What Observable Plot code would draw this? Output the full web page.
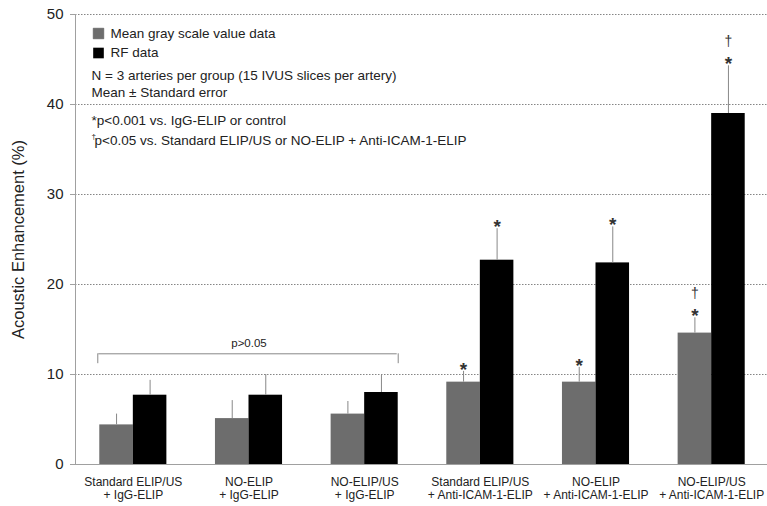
<!DOCTYPE html>
<html><head><meta charset="utf-8">
<script src="https://cdn.jsdelivr.net/npm/d3@7"></script>
<script src="https://cdn.jsdelivr.net/npm/@observablehq/plot@0.6"></script>
<style>body{margin:0;background:#fff} svg{display:block}</style>
</head><body><div id="chart"></div>
<script>
const groups = [
  "Standard ELIP/US\n+ IgG-ELIP",
  "NO-ELIP\n+ IgG-ELIP",
  "NO-ELIP/US\n+ IgG-ELIP",
  "Standard ELIP/US\n+ Anti-ICAM-1-ELIP",
  "NO-ELIP\n+ Anti-ICAM-1-ELIP",
  "NO-ELIP/US\n+ Anti-ICAM-1-ELIP"
];
const seriesNames = ["Mean gray scale value data", "RF data"];
const grayMean = [4.4, 5.1, 5.6, 9.15, 9.15, 14.6];
const graySE   = [1.2, 2.0, 1.4, 1.2, 1.65, 1.7];
const rfMean   = [7.7, 7.7, 8.0, 22.7, 22.4, 39.0];
const rfSE     = [1.65, 2.3, 1.9, 3.5, 4.0, 5.3];
const yTicks = [0, 10, 20, 30, 40, 50];
const gridTicks = [10, 20, 30, 40, 50];
// significance markers: group indices per series
const starGray = [3, 4, 5], starRF = [3, 4, 5];
const daggerGray = [5], daggerRF = [5];
const bracketGroups = [0, 2];
const bracketLevel = 12.3, bracketHook = 11.2, bracketLabelY = 13.5;
const bracketLabel = "p>0.05";
const notes = [
  "N = 3 arteries per group (15 IVUS slices per artery)",
  "Mean \u00b1 Standard error",
  "*p<0.001 vs. IgG-ELIP or control",
  "p<0.05 vs. Standard ELIP/US or NO-ELIP + Anti-ICAM-1-ELIP"
];
const yLabel = "Acoustic Enhancement (%)";

const colors = ["#6d6d6d", "#000000"];
const W = 767, H = 506, mL = 75, mT = 14, mB = 42;
const xOpts = {type: "band", domain: groups, range: [75, 769], paddingInner: 0.42, paddingOuter: 0.21, round: false};
const bw = Plot.scale({x: xOpts}).bandwidth;

const grayRows = groups.map((g, i) => ({group: g, value: grayMean[i], se: graySE[i]}));
const rfRows = groups.map((g, i) => ({group: g, value: rfMean[i], se: rfSE[i]}));
const errTop = d => d.value + d.se;
const font = "Liberation Sans, Arial, Helvetica, sans-serif";
const ink = "#222";
const noteSize = 13.5;

const sig = (rowsArr, idx, sym, dx, dy, size, weight) =>
  Plot.text(idx.map(i => rowsArr[i]), {x: "group", y: errTop, text: () => sym, dx, dy, fontSize: size, fontWeight: weight, fill: "#333"});

const chart = Plot.plot({
  width: W, height: H,
  marginLeft: mL, marginRight: 0, marginTop: mT, marginBottom: mB,
  style: {fontFamily: font, background: "#fff"},
  x: {...xOpts, label: null},
  y: {domain: [0, 50], label: null},
  marks: [
    Plot.ruleY(gridTicks, {stroke: "#858585", strokeDasharray: "1.5,1.5"}),
    Plot.barY(grayRows, {x: "group", y: "value", fill: colors[0], insetRight: bw / 2, insetLeft: 0}),
    Plot.barY(rfRows, {x: "group", y: "value", fill: colors[1], insetLeft: bw / 2, insetRight: 0}),
    Plot.ruleX(grayRows, {x: "group", y1: "value", y2: errTop, dx: -bw / 4, stroke: "#888"}),
    Plot.ruleX(rfRows, {x: "group", y1: "value", y2: errTop, dx: bw / 4, stroke: "#888"}),
    Plot.frame({anchor: "left", stroke: "#a0a0a0"}),
    Plot.ruleY([0], {stroke: "#a0a0a0"}),
    Plot.axisY({ticks: yTicks, tickSize: 5, tickPadding: 7, fontSize: 15, stroke: "#a0a0a0", fill: ink, label: null}),
    Plot.axisX({tickSize: 0, tickPadding: 12, fontSize: 12, lineHeight: 1.08, fill: ink, label: null}),
    Plot.text([yLabel], {frameAnchor: "left", textAnchor: "middle", dx: -57, rotate: -90, fontSize: 16.5, fill: ink}),
    // significance markers
    sig(grayRows, starGray, "*", -bw / 4, -1.5, 19, "bold"),
    sig(rfRows, starRF, "*", bw / 4, -1.5, 19, "bold"),
    sig(grayRows, daggerGray, "\u2020", -bw / 4, -24, 14, "normal"),
    sig(rfRows, daggerRF, "\u2020", bw / 4, -24, 14, "normal"),
    // bracket
    Plot.ruleY([bracketLevel], {x1: () => groups[bracketGroups[0]], x2: () => groups[bracketGroups[1]], dx: -1, stroke: "#888"}),
    Plot.ruleX([groups[bracketGroups[0]]], {y1: bracketHook, y2: bracketLevel, dx: -bw / 2 - 2, stroke: "#888"}),
    Plot.ruleX([groups[bracketGroups[1]]], {y1: bracketHook, y2: bracketLevel, dx: bw / 2, stroke: "#888"}),
    Plot.text([bracketLabel], {x: () => groups[1], y: bracketLabelY, fontSize: 11.5, fill: ink}),
    // legend
    Plot.dot([seriesNames[0]], {frameAnchor: "top-left", dx: 23, dy: 19, symbol: "square", r: 6, fill: colors[0], stroke: "#555", strokeWidth: 0.5}),
    Plot.dot([seriesNames[1]], {frameAnchor: "top-left", dx: 23, dy: 38.5, symbol: "square", r: 6, fill: colors[1]}),
    Plot.text([seriesNames[0]], {frameAnchor: "top-left", dx: 35, dy: 19, lineAnchor: "middle", fontSize: noteSize, fill: ink}),
    Plot.text([seriesNames[1]], {frameAnchor: "top-left", dx: 35, dy: 38.5, lineAnchor: "middle", fontSize: noteSize, fill: ink}),
    // notes
    Plot.text([notes[0]], {frameAnchor: "top-left", dx: 16, dy: 61, lineAnchor: "middle", fontSize: noteSize, fill: ink}),
    Plot.text([notes[1]], {frameAnchor: "top-left", dx: 16, dy: 78, lineAnchor: "middle", fontSize: noteSize, fill: ink}),
    Plot.text([notes[2]], {frameAnchor: "top-left", dx: 16, dy: 106, lineAnchor: "middle", fontSize: noteSize, fill: ink}),
    Plot.text(["\u2020"], {frameAnchor: "top-left", dx: 16, dy: 122, lineAnchor: "middle", fontSize: 8, fill: ink}),
    Plot.text([notes[3]], {frameAnchor: "top-left", dx: 19, dy: 126, lineAnchor: "middle", fontSize: noteSize, fill: ink})
  ]
});
document.getElementById("chart").append(chart);
</script></body></html>
